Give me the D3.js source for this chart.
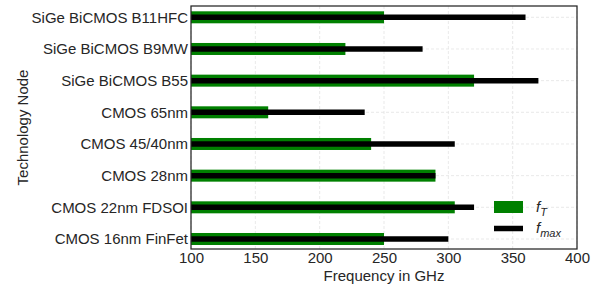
<!DOCTYPE html>
<html lang="en">
<head>
	<meta charset="UTF-8">
	<title>fT / fmax</title>
	<script src="https://cdn.jsdelivr.net/npm/d3@7/dist/d3.min.js"></script>
	<style>
		body { margin: 0; background: #fff; }
		text { font-family: "Liberation Sans", Arial, sans-serif; fill: #262626; }
	</style>
</head>
<body>
	<script>
	let nodes = ['SiGe BiCMOS B11HFC', 'SiGe BiCMOS B9MW', 'SiGe BiCMOS B55', 'CMOS 65nm',
		'CMOS 45/40nm', 'CMOS 28nm', 'CMOS 22nm FDSOI', 'CMOS 16nm FinFet']
	let fT = [250, 220, 320, 160, 240, 290, 305, 250]
	let fmax = [360, 280, 370, 235, 305, 290, 320, 300]
	let xTicks = [100, 150, 200, 250, 300, 350, 400]

	let width = 600,
		height = 287;
	let margin = { top: 6, right: 23, bottom: 38, left: 191 }
	let fs = '15px'

	let svg = d3.select('body').append('svg')
		.attr('width', width)
		.attr('height', height)

	let x = d3.scaleLinear()
		.domain([100, 400])
		.range([margin.left, width - margin.right])

	// categories as index positions, so the small top/bottom padding can be matched
	let y = d3.scaleLinear()
		.domain([-0.357, nodes.length - 1 + 0.316])
		.range([margin.top, height - margin.bottom])

	let barH = 12,
		lineW = 5.5;

	/* grid */
	svg.append('g')
		.selectAll('line')
		.data(xTicks)
		.enter()
		.append('line')
		.attr('x1', d => x(d))
		.attr('x2', d => x(d))
		.attr('y1', margin.top)
		.attr('y2', height - margin.bottom)
		.attr('stroke', '#e3e3e3')
		.attr('stroke-width', 0.8)
		.attr('stroke-dasharray', '3,2')

	svg.append('g')
		.selectAll('line')
		.data(nodes)
		.enter()
		.append('line')
		.attr('x1', margin.left)
		.attr('x2', width - margin.right)
		.attr('y1', (d, i) => y(i))
		.attr('y2', (d, i) => y(i))
		.attr('stroke', '#e3e3e3')
		.attr('stroke-width', 0.8)
		.attr('stroke-dasharray', '3,2')

	/* bars */
	svg.append('g')
		.selectAll('rect')
		.data(fT)
		.enter()
		.append('rect')
		.attr('x', x(100))
		.attr('y', (d, i) => y(i) - barH / 2)
		.attr('width', d => x(d) - x(100))
		.attr('height', barH)
		.attr('fill', '#008000')

	svg.append('g')
		.selectAll('line')
		.data(fmax)
		.enter()
		.append('line')
		.attr('x1', x(100))
		.attr('x2', d => x(d))
		.attr('y1', (d, i) => y(i))
		.attr('y2', (d, i) => y(i))
		.attr('stroke', '#000')
		.attr('stroke-width', lineW)

	/* axes */
	let axisB = d3.axisBottom(x).tickValues(xTicks).tickSize(0).tickPadding(3)
	let gx = svg.append('g')
		.attr('transform', `translate(0,${height - margin.bottom})`)
		.call(axisB)
	gx.select('.domain').remove()
	gx.selectAll('text').style('font-size', fs).attr('fill', '#262626')

	let yPos = d3.scaleOrdinal().domain(nodes).range(nodes.map((d, i) => y(i)))
	let axisL = d3.axisLeft(yPos).tickSize(0).tickPadding(3)
	let gy = svg.append('g')
		.attr('transform', `translate(${margin.left},0)`)
		.call(axisL)
	gy.select('.domain').remove()
	gy.selectAll('text').style('font-size', fs).attr('fill', '#262626')

	svg.append('rect')
		.attr('x', margin.left)
		.attr('y', margin.top)
		.attr('width', width - margin.right - margin.left)
		.attr('height', height - margin.bottom - margin.top)
		.attr('fill', 'none')
		.attr('stroke', '#262626')
		.attr('stroke-width', 1.25)

	svg.append('text')
		.attr('x', (margin.left + width - margin.right) / 2)
		.attr('y', 281)
		.attr('text-anchor', 'middle')
		.style('font-size', fs)
		.text('Frequency in GHz')

	svg.append('text')
		.attr('transform', `translate(28,${(margin.top + height - margin.bottom) / 2}) rotate(-90)`)
		.attr('text-anchor', 'middle')
		.style('font-size', fs)
		.text('Technology Node')

	/* legend */
	let lg = svg.append('g').attr('transform', 'translate(494,0)')
	lg.append('rect')
		.attr('x', 0).attr('y', 201)
		.attr('width', 29).attr('height', 12)
		.attr('fill', '#008000')
	lg.append('line')
		.attr('x1', 0).attr('x2', 29)
		.attr('y1', 228.5).attr('y2', 228.5)
		.attr('stroke', '#000')
		.attr('stroke-width', lineW)

	let t1 = lg.append('text').attr('x', 42).attr('y', 212).style('font-size', fs).style('font-style', 'italic')
	t1.append('tspan').text('f')
	t1.append('tspan').attr('dy', 3.5).style('font-size', '11px').text('T')
	let t2 = lg.append('text').attr('x', 42).attr('y', 233).style('font-size', fs).style('font-style', 'italic')
	t2.append('tspan').text('f')
	t2.append('tspan').attr('dy', 3.5).style('font-size', '11px').text('max')
	</script>
</body>
</html>
